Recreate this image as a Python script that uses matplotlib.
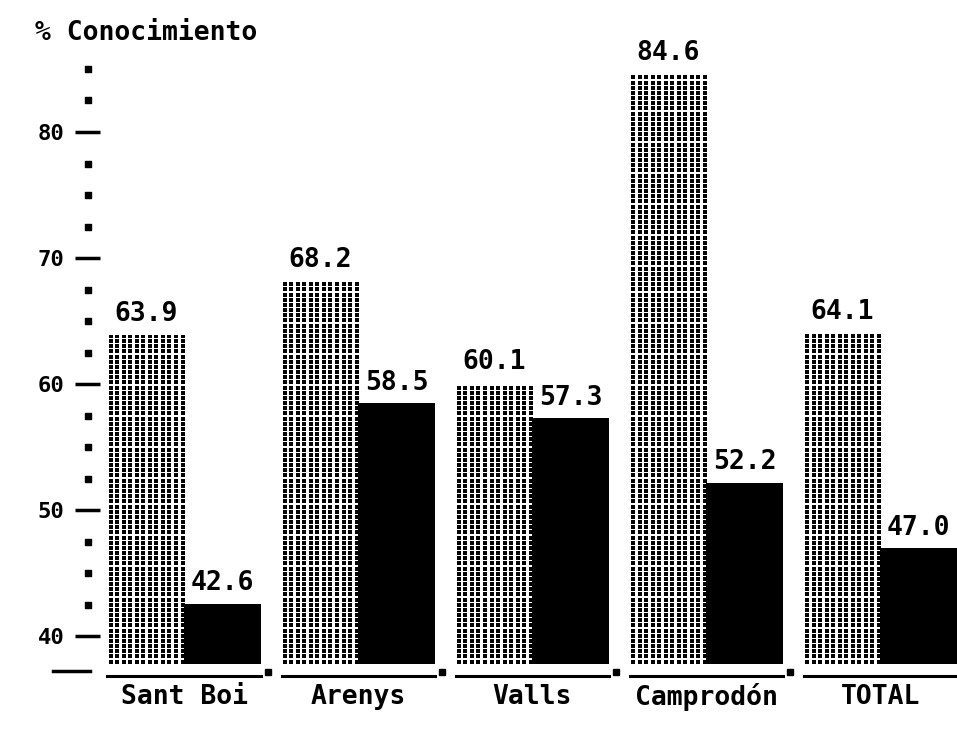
import numpy as np
import matplotlib
matplotlib.use('Agg')
import matplotlib.pyplot as plt
import matplotlib.transforms as mtransforms

# data
categories = ['Sant Boi', 'Arenys', 'Valls', 'Camprodón', 'TOTAL']
serie_trama = [63.9, 68.2, 60.1, 84.6, 64.1]   # dotted bars
serie_negra = [42.6, 58.5, 57.3, 52.2, 47.0]   # solid black bars
y_ticks = [40, 50, 60, 70, 80]
y_dots = [42.5, 45, 47.5, 52.5, 55, 57.5, 62.5, 65, 67.5, 72.5, 75, 77.5, 82.5, 85]

base = 37.8
mono = 'DejaVu Sans Mono'

fig = plt.figure(figsize=(9.57, 7.41), dpi=100)
ax = fig.add_axes([0.105, 0.073, 0.895, 0.885])
ax.set_xlim(-0.48, 4.44)
ax.set_ylim(36, 88)

x = np.arange(len(categories))
w = 0.44
dx, dy = 0.0375, 0.41   # dot screen spacing (~6.5 px x 5 px)
for i in x:
    rect = ax.bar(i - w / 2, serie_trama[i] - base, w, bottom=base, color='white',
                  linewidth=0)[0]
    # dot screen inside the light bar
    gx, gy = np.meshgrid(np.arange(i - w + dx / 2, i, dx),
                         np.arange(base + dy / 2, serie_trama[i], dy))
    dots = ax.scatter(gx.ravel(), gy.ravel(), s=8, marker='s', color='black',
                      linewidths=0)
    dots.set_clip_path(rect)
    ax.bar(i + w / 2, serie_negra[i] - base, w, bottom=base, color='black',
           edgecolor='black', linewidth=0)
    ax.text(i - w / 2, serie_trama[i] + 0.6, f'{serie_trama[i]:.1f}', ha='center',
            va='bottom', fontsize=19, fontweight='bold', family=mono)
    ax.text(i + w / 2, serie_negra[i] + 0.6, f'{serie_negra[i]:.1f}', ha='center',
            va='bottom', fontsize=19, fontweight='bold', family=mono)
    # underline per group with small square at its end
    ax.plot([i - w, i + w], [36.9, 36.9], color='black', lw=2.2, clip_on=False)
    ax.plot([i + w + 0.04], [37.2], marker='s', ms=4, color='black', clip_on=False)
    ax.text(i, 35.2, categories[i], ha='center', va='center', fontsize=19,
            fontweight='bold', family=mono, clip_on=False)

ax.set_xticks([])
ax.set_yticks(y_ticks)
ax.set_yticklabels([str(t) for t in y_ticks], family=mono, fontweight='bold', fontsize=16)
ax.tick_params(axis='y', length=18, width=2.5, direction='out', pad=8)
for s in ax.spines.values():
    s.set_visible(False)

# dotted minor marks next to the axis, plus the base dash
trans = mtransforms.blended_transform_factory(ax.transAxes, ax.transData)
ax.scatter([-0.014] * len(y_dots), y_dots, s=14, marker='s', color='black',
           transform=trans, clip_on=False)
ax.plot([-0.055, -0.012], [37.3, 37.3], color='black', lw=2.5, transform=trans,
        clip_on=False)

fig.text(0.037, 0.955, '% Conocimiento', fontsize=19, fontweight='bold', family=mono,
         va='center', ha='left')

fig.savefig('out.png', dpi=100)
